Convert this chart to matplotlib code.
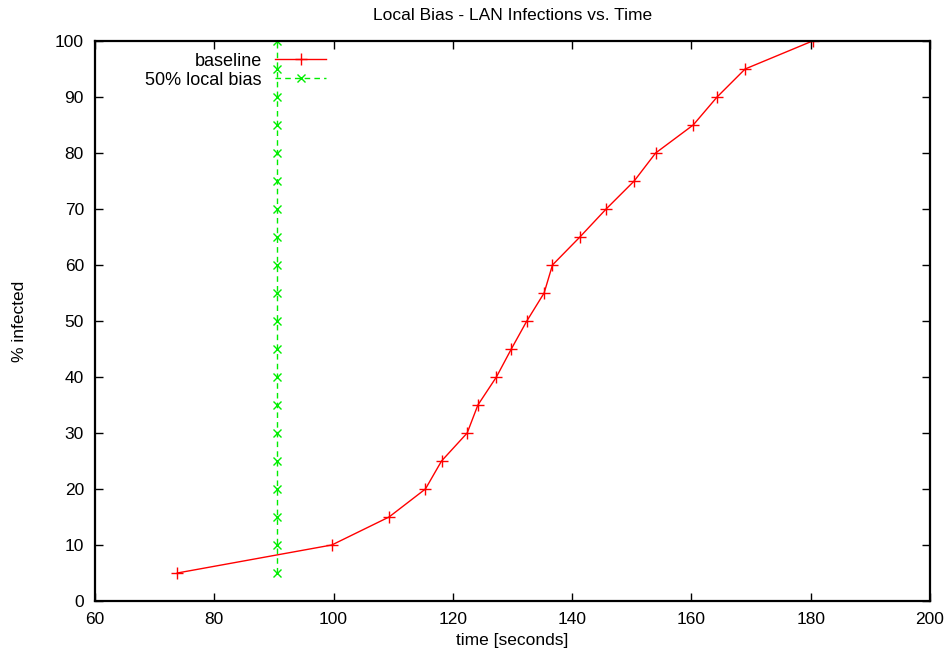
import matplotlib.pyplot as plt

plt.rcParams['font.family'] = ['Liberation Sans', 'DejaVu Sans']

# percent infected levels
pct = [5, 10, 15, 20, 25, 30, 35, 40, 45, 50, 55, 60, 65, 70, 75, 80, 85, 90, 95, 100]

# time (seconds) to reach each level
baseline_t = [73.8, 99.7, 109.3, 115.4, 118.1, 122.4, 124.2, 127.3, 129.8, 132.4,
              135.3, 136.7, 141.3, 145.7, 150.4, 154.0, 160.3, 164.3, 169.0, 180.3]
local_bias_t = [90.5] * len(pct)

fig = plt.figure(figsize=(9.48, 6.60), dpi=100)
ax = fig.add_axes([95 / 948, 1 - 601 / 660, (930 - 95) / 948, (601 - 41) / 660])

ax.plot(baseline_t, pct, color='#ff0000', lw=1, marker='+', ms=8, mew=1,
        label='baseline')
ax.plot(local_bias_t, pct, color='#00ee00', lw=1, ls=(0, (4, 3)), marker='x',
        ms=6, mew=1, label='50% local bias')

ax.set_xlim(60, 200)
ax.set_ylim(0, 100)
ax.set_xticks(range(60, 201, 20))
ax.set_yticks(range(0, 101, 10))
ax.tick_params(direction='in', top=True, right=True, length=6, width=1,
               labelsize=12.5, pad=8)
for s in ax.spines.values():
    s.set_linewidth(1.6)

ax.set_title('Local Bias - LAN Infections vs. Time', fontsize=12.5, pad=15)
ax.set_xlabel('time [seconds]', fontsize=12.5, labelpad=4)
ax.set_ylabel('% infected', fontsize=12.5, labelpad=20)

leg = ax.legend(loc='upper right', bbox_to_anchor=(0.296, 1.008), frameon=False,
                markerfirst=False, fontsize=13, handlelength=2.8,
                handletextpad=0.75, labelspacing=0.1, borderpad=0.4)
for col in leg._legend_handle_box.get_children():
    col.align = 'right'

fig.savefig('out.png', dpi=100)
